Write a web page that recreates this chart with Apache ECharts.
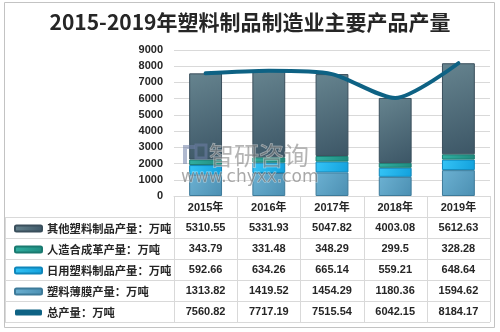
<!DOCTYPE html>
<html>
<head>
<meta charset="utf-8">
<script src="https://cdn.jsdelivr.net/npm/echarts@6/dist/echarts.min.js"></script>
<style>
html,body{margin:0;padding:0;background:#fff;}
#main{width:500px;height:332px;}
</style>
</head>
<body>
<div id="main"></div>
<script>
const titleText = '2015-2019年塑料制品制造业主要产品产量';
const years = ['2015', '2016', '2017', '2018', '2019'];
const seriesNames = ['其他塑料制品产量：万吨', '人造合成革产量：万吨', '日用塑料制品产量：万吨', '塑料薄膜产量：万吨', '总产量：万吨'];
const otherPlastics = [5310.55, 5331.93, 5047.82, 4003.08, 5612.63];
const artificialLeather = [343.79, 331.48, 348.29, 299.5, 328.28];
const dailyPlastics = [592.66, 634.26, 665.14, 559.21, 648.64];
const plasticFilm = [1313.82, 1419.52, 1454.29, 1180.36, 1594.62];
const totalOutput = [7560.82, 7717.19, 7515.54, 6042.15, 8184.17];
const yTicks = [0, 1000, 2000, 3000, 4000, 5000, 6000, 7000, 8000, 9000];

const tableRows = [otherPlastics, artificialLeather, dailyPlastics, plasticFilm, totalOutput];

const FONT = '"Liberation Sans", "Noto Sans CJK SC", sans-serif';
const GRID_L = 174, GRID_R = 490, GRID_T = 50, AXIS_Y = 196;
const HEADER_B = 217, ROW_H = 21, TABLE_L = 5;
const COLW = (GRID_R - GRID_L) / years.length;

function grad(c1, c2) {
  return new echarts.graphic.LinearGradient(0, 0, 1, 1, [
    { offset: 0, color: c1 }, { offset: 1, color: c2 }
  ]);
}

const chart = echarts.init(document.getElementById('main'), null, { renderer: 'canvas' });

const graphics = [];
graphics.push({ type: 'rect', shape: { x: 4.5, y: 2.5, width: 490, height: 325 }, style: { fill: 'none', stroke: '#c3c3c3', lineWidth: 1 }, z: 0, silent: true });
for (let i = 0; i <= tableRows.length; i++) {
  const y = HEADER_B + i * ROW_H + 0.5;
  graphics.push({ type: 'line', shape: { x1: TABLE_L, y1: y, x2: GRID_R, y2: y }, style: { stroke: '#d9d9d9', lineWidth: 1 }, z: 1, silent: true });
}
graphics.push({ type: 'line', shape: { x1: TABLE_L + 0.5, y1: HEADER_B, x2: TABLE_L + 0.5, y2: HEADER_B + ROW_H * tableRows.length }, style: { stroke: '#d9d9d9', lineWidth: 1 }, z: 1, silent: true });
for (let j = 0; j <= years.length; j++) {
  const x = Math.round(GRID_L + j * COLW) + 0.5;
  graphics.push({ type: 'line', shape: { x1: x, y1: AXIS_Y, x2: x, y2: HEADER_B + ROW_H * tableRows.length }, style: { stroke: '#d9d9d9', lineWidth: 1 }, z: 1, silent: true });
}
tableRows.forEach((row, i) => {
  row.forEach((v, j) => {
    graphics.push({
      type: 'text', z: 5, silent: true,
      x: GRID_L + (j + 0.5) * COLW, y: HEADER_B + i * ROW_H + ROW_H / 2,
      style: { text: String(v), fill: '#262626', font: 'bold 11px ' + FONT, textAlign: 'center', textVerticalAlign: 'middle' }
    });
  });
});
// watermark
graphics.push({ type: 'rect', shape: { x: 183, y: 145, width: 12, height: 4 }, style: { fill: '#6f7fa8', opacity: 0.55 }, z: 20, silent: true });
graphics.push({ type: 'rect', shape: { x: 183, y: 149, width: 4, height: 15 }, style: { fill: '#6f7fa8', opacity: 0.55 }, z: 20, silent: true });
graphics.push({ type: 'rect', shape: { x: 196, y: 145, width: 10, height: 13 }, style: { fill: 'none', stroke: '#6f7fa8', lineWidth: 3, opacity: 0.55 }, z: 20, silent: true });
graphics.push({ type: 'text', x: 209, y: 155, z: 20, silent: true, style: { text: '智研咨询', fill: 'rgba(120,120,120,0.55)', stroke: 'rgba(255,255,255,0.5)', lineWidth: 1, font: '25px "Noto Sans CJK SC", sans-serif', textVerticalAlign: 'middle' } });
graphics.push({ type: 'text', x: 181, y: 178, z: 20, silent: true, style: { text: 'www.chyxx.com', fill: 'rgba(110,110,110,0.6)', stroke: 'rgba(255,255,255,0.5)', lineWidth: 1, font: '17px "DejaVu Sans", sans-serif', textVerticalAlign: 'middle' } });

const legendData = seriesNames.map((n, i) => i === seriesNames.length - 1 ? { name: n, icon: 'roundRect' } : { name: n });

const option = {
  animation: false,
  backgroundColor: '#ffffff',
  title: {
    text: titleText, left: 'center', top: 7,
    textStyle: { fontFamily: '"Noto Sans CJK SC", sans-serif', fontSize: 21, fontWeight: 'bold', color: '#262626' }
  },
  legend: {
    orient: 'vertical', left: 9, top: HEADER_B - 4, itemGap: 0, itemWidth: 27, itemHeight: 6,
    data: legendData,
    textStyle: { fontFamily: '"Noto Sans CJK SC", sans-serif', fontSize: 11.3, fontWeight: 'bold', color: '#262626', lineHeight: ROW_H, height: ROW_H },
    selectedMode: false
  },
  grid: { left: GRID_L, right: 500 - GRID_R, top: GRID_T, bottom: 332 - AXIS_Y },
  xAxis: {
    type: 'category', data: years,
    axisLine: { show: true, lineStyle: { color: '#d9d9d9' } },
    axisTick: { show: false },
    axisLabel: { formatter: '{value}年', margin: 6, fontFamily: FONT, fontSize: 11, fontWeight: 'bold', color: '#262626' }
  },
  yAxis: {
    type: 'value', min: yTicks[0], max: yTicks[yTicks.length - 1], interval: yTicks[1] - yTicks[0],
    axisLine: { show: false }, axisTick: { show: false },
    splitLine: { lineStyle: { color: '#d9d9d9' } },
    axisLabel: { margin: 11, formatter: v => String(v), fontFamily: FONT, fontSize: 11, fontWeight: 'bold', color: '#262626' }
  },
  series: [
    { name: seriesNames[3], type: 'bar', stack: 'p', barWidth: '52%', data: plasticFilm,
      itemStyle: { color: grad('#6cb1d2', '#4b8fb2'), borderColor: '#3d7a99', borderWidth: 1 } },
    { name: seriesNames[2], type: 'bar', stack: 'p', data: dailyPlastics,
      itemStyle: { color: grad('#35c4f6', '#12a0dc'), borderColor: '#0f86ba', borderWidth: 1 } },
    { name: seriesNames[1], type: 'bar', stack: 'p', data: artificialLeather,
      itemStyle: { color: grad('#31b0a2', '#1e8a7e'), borderColor: '#1a7a70', borderWidth: 1 } },
    { name: seriesNames[0], type: 'bar', stack: 'p', data: otherPlastics,
      itemStyle: { color: grad('#66848f', '#3c5666'), borderColor: '#3a4f5c', borderWidth: 1 } },
    { name: seriesNames[4], type: 'line', data: totalOutput, smooth: 0.25, symbol: 'none', z: 10,
      lineStyle: { color: '#0e6284', width: 4, cap: 'round' }, itemStyle: { color: '#0e6284' } }
  ],
  graphic: graphics
};
chart.setOption(option);
</script>
</body>
</html>
